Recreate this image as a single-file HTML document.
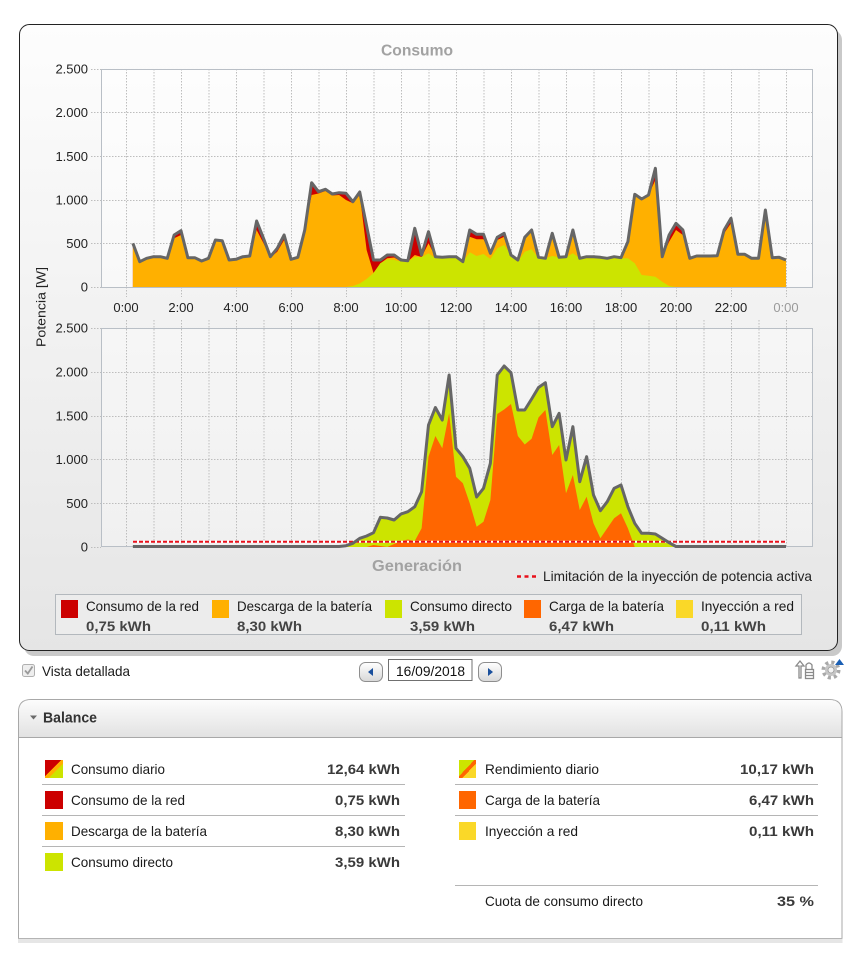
<!DOCTYPE html>
<html><head><meta charset="utf-8"><style>
html,body{margin:0;padding:0;background:#fff;}
body{width:862px;height:979px;overflow:hidden;position:relative;}
svg{position:absolute;left:0;top:0;}
text{font-family:"Liberation Sans",Arial,sans-serif;}
</style></head><body>
<svg width="862" height="979" viewBox="0 0 862 979" xmlns="http://www.w3.org/2000/svg">
<defs>
<linearGradient id="pg" x1="0" y1="0" x2="0" y2="1"><stop offset="0" stop-color="#fdfdfd"/><stop offset="1" stop-color="#e5e5e5"/></linearGradient>
<linearGradient id="hg" x1="0" y1="0" x2="0" y2="1"><stop offset="0" stop-color="#fcfcfc"/><stop offset="1" stop-color="#e2e2e2"/></linearGradient>
<linearGradient id="bg" x1="0" y1="0" x2="0" y2="1"><stop offset="0" stop-color="#ffffff"/><stop offset="1" stop-color="#d8d8d8"/></linearGradient>
<linearGradient id="ic1" x1="0" y1="0" x2="1" y2="1"><stop offset="0.45" stop-color="#cc0000"/><stop offset="0.45" stop-color="#ffb000"/><stop offset="0.6" stop-color="#ffb000"/><stop offset="0.6" stop-color="#cce400"/></linearGradient>
<linearGradient id="ic2" x1="0" y1="0" x2="1" y2="1"><stop offset="0.45" stop-color="#cce400"/><stop offset="0.45" stop-color="#ff6600"/><stop offset="0.6" stop-color="#ff6600"/><stop offset="0.6" stop-color="#fad828"/></linearGradient>
</defs>

<!-- chart panel -->
<rect x="24" y="30" width="818" height="626" rx="10" fill="#c9c9c9"/>
<rect x="19.5" y="24.5" width="818" height="626" rx="10" fill="url(#pg)" stroke="#222" stroke-width="1"/>

<text x="417" y="55.5" text-anchor="middle" font-size="16" font-weight="bold" fill="#a2a2a2" textLength="72" lengthAdjust="spacingAndGlyphs">Consumo</text>
<text x="417" y="571" text-anchor="middle" font-size="16" font-weight="bold" fill="#a2a2a2" textLength="90" lengthAdjust="spacingAndGlyphs">Generación</text>

<!-- plot backgrounds -->
<rect x="101.5" y="69.5" width="711" height="218" fill="#ffffff" fill-opacity="0.45"/>
<rect x="101.5" y="328.5" width="711" height="218" fill="#ffffff" fill-opacity="0.35"/>

<!-- grid -->
<g stroke="#bdbdbd" stroke-width="1" stroke-dasharray="1.5,1.5" fill="none">
<path d="M91 69.5H812 M91 112.5H812 M91 156.5H812 M91 200.5H812 M91 243.5H812 M91 287.5H101"/>
<path d="M91 328.5H812 M91 372.5H812 M91 416.5H812 M91 459.5H812 M91 503.5H812 M91 547.5H101"/>
<path d="M126.5 69V287 M154 69V287 M181.5 69V287 M209 69V287 M236.5 69V287 M264 69V287 M291.5 69V287 M319 69V287 M346.5 69V287 M374 69V287 M401.5 69V287 M429 69V287 M456.5 69V287 M484 69V287 M511.5 69V287 M539 69V287 M566.5 69V287 M594 69V287 M621.5 69V287 M649 69V287 M676.5 69V287 M704 69V287 M731.5 69V287 M759 69V287 M786.5 69V287"/>
<path d="M126.5 287V297 M181.5 287V297 M236.5 287V297 M291.5 287V297 M346.5 287V297 M401.5 287V297 M456.5 287V297 M511.5 287V297 M566.5 287V297 M621.5 287V297 M676.5 287V297 M731.5 287V297 M786.5 287V297"/>
<path d="M126.5 320V547 M154 320V547 M181.5 320V547 M209 320V547 M236.5 320V547 M264 320V547 M291.5 320V547 M319 320V547 M346.5 320V547 M374 320V547 M401.5 320V547 M429 320V547 M456.5 320V547 M484 320V547 M511.5 320V547 M539 320V547 M566.5 320V547 M594 320V547 M621.5 320V547 M649 320V547 M676.5 320V547 M704 320V547 M731.5 320V547 M759 320V547 M786.5 320V547"/>
</g>
<rect x="101.5" y="69.5" width="711" height="218" fill="none" stroke="#b9bfc6" stroke-width="1"/>
<rect x="101.5" y="328.5" width="711" height="218" fill="none" stroke="#b9bfc6" stroke-width="1"/>

<!-- top chart series -->
<g transform="translate(126,0) scale(6.875,1)">
<polygon fill="#cc0000" points="1,287 1,243.3 2,261.7 3,258.3 4,256.7 5,256.7 6,258.3 7,235 8,230.7 9,257.7 10,257.7 11,261 12,258.3 13,240 14,240.7 15,260 16,259.3 17,256.7 18,256 19,221 20,238.3 21,256.7 22,248.3 23,235 24,259.3 25,257.3 26,230 27,182.7 28,191.7 29,189.3 30,194 31,192.7 32,193.3 33,201.7 34,192 35,226 36,260 37,260 38,255 39,255 40,260 41,260.7 42,228.3 43,255 44,231.7 45,256.7 46,257.3 47,256.7 48,256.7 49,261.7 50,230 51,234.3 52,234.3 53,253.3 54,237.3 55,233.3 56,255 57,260 58,237.3 59,230 60,257.3 61,258.3 62,233.3 63,257.3 64,256.7 65,230 66,258.3 67,256.7 68,256.7 69,257.3 70,258.3 71,256.7 72,257.7 73,241.7 74,194.3 75,199 76,195 77,168.3 78,256.7 79,235 80,223.3 81,230 82,258.3 83,256 84,256 85,256 86,255.7 87,230 88,218.3 89,254.3 90,254.3 91,258.3 92,258.3 93,210 94,257.7 95,257.3 96,260 96,287"/>
<polygon fill="#ffb000" points="1,287 1,243.3 2,261.7 3,258.3 4,256.7 5,256.7 6,258.3 7,238.3 8,235 9,257.7 10,257.7 11,261 12,258.3 13,240 14,240.7 15,260 16,259.3 17,256.7 18,256 19,230 20,243.3 21,257.5 22,251.7 23,240 24,259.3 25,257.3 26,230 27,195 28,193.5 29,191 30,195.5 31,195 32,200 33,203.3 34,195 35,250 36,273 37,263.3 38,258.3 39,257.5 40,261.5 41,261.5 42,255 43,257 44,243.3 45,256.7 46,257.3 47,256.7 48,256.7 49,261.7 50,236.7 51,239.3 52,239.3 53,253.3 54,240 55,236.7 56,255 57,261.7 58,237.3 59,230 60,257.3 61,258.3 62,233.3 63,257.3 64,256.7 65,230 66,258.3 67,256.7 68,256.7 69,257.3 70,258.3 71,256.7 72,257.7 73,241.7 74,194.3 75,199 76,195 77,180 78,256.7 79,241.7 80,230 81,235 82,258.3 83,256 84,256 85,256 86,255.7 87,233.3 88,223.3 89,254.3 90,254.3 91,258.3 92,258.3 93,216.7 94,257.7 95,257.3 96,260 96,287"/>
<polygon fill="#cce400" points="31,287 32,287 33,286 34,283.5 35,279 36,273 37,263.3 38,259.3 39,260 40,261.5 41,261.5 42,257 43,257 44,253.3 45,258.3 46,258.3 47,258 48,258 49,261.7 50,252.3 51,256 52,254 53,259 54,248.3 55,245 56,255 57,261.7 58,251.7 59,249.3 60,258.3 61,258.3 62,256 63,257.3 64,257.3 65,253.3 66,258.3 67,258.3 68,258.3 69,258.3 70,259 71,258.3 72,258.3 73,258.3 74,263.3 75,275 76,275.7 77,276.7 78,281.7 79,286 80,287"/>
<polyline fill="none" stroke="#666" stroke-width="3" stroke-linejoin="round" vector-effect="non-scaling-stroke" points="1,243.3 2,261.7 3,258.3 4,256.7 5,256.7 6,258.3 7,235 8,230.7 9,257.7 10,257.7 11,261 12,258.3 13,240 14,240.7 15,260 16,259.3 17,256.7 18,256 19,221 20,238.3 21,256.7 22,248.3 23,235 24,259.3 25,257.3 26,230 27,182.7 28,191.7 29,189.3 30,194 31,192.7 32,193.3 33,201.7 34,192 35,226 36,260 37,260 38,255 39,255 40,260 41,260.7 42,228.3 43,255 44,231.7 45,256.7 46,257.3 47,256.7 48,256.7 49,261.7 50,230 51,234.3 52,234.3 53,253.3 54,237.3 55,233.3 56,255 57,260 58,237.3 59,230 60,257.3 61,258.3 62,233.3 63,257.3 64,256.7 65,230 66,258.3 67,256.7 68,256.7 69,257.3 70,258.3 71,256.7 72,257.7 73,241.7 74,194.3 75,199 76,195 77,168.3 78,256.7 79,235 80,223.3 81,230 82,258.3 83,256 84,256 85,256 86,255.7 87,230 88,218.3 89,254.3 90,254.3 91,258.3 92,258.3 93,210 94,257.7 95,257.3 96,260"/>
</g>

<!-- bottom chart series -->
<g transform="translate(126,0) scale(6.875,1)">
<polygon fill="#cce400" points="1,547 1,546.5 31,546.5 32,545.7 33,543.3 34,538.3 35,536 36,532.7 37,517.3 38,518 39,520 40,514 41,511.7 42,506.7 43,491.7 44,425 45,407.5 46,420 47,375 48,448.3 49,456.7 50,468.3 51,497 52,488.3 53,463.3 54,375 55,366 56,372.7 57,410 58,410 59,399 60,387.5 61,382.7 62,426.7 63,413.3 64,460 65,426.7 66,481.7 67,456.7 68,495 69,510.7 70,501.7 71,488.3 72,485 73,506.7 74,523.3 75,533.3 76,533.3 77,534 78,538.3 79,542.7 80,546.5 96,546.5 96,547"/>
<polygon fill="#ff6600" points="35,547 36,545 37,546 38,547 39,544 40,541 41,539.5 42,541 43,528.3 44,456.7 45,436 46,448.3 47,413.3 48,476.7 49,483.3 50,503.3 51,526.7 52,521.7 53,500 54,414 55,409.5 56,404 57,436 58,444.5 59,438.8 60,417.5 61,410 62,455 63,445 64,493.3 65,475 66,510 67,496.7 68,523.3 69,538.3 70,528.3 71,518.3 72,513.3 73,528.3 74,547"/>
</g>
<line x1="133" y1="541.7" x2="786" y2="541.7" stroke="#ffffff" stroke-width="2"/>
<line x1="133" y1="541.7" x2="786" y2="541.7" stroke="#e8101a" stroke-width="2" stroke-dasharray="4,2"/>
<g transform="translate(126,0) scale(6.875,1)">
<polyline fill="none" stroke="#666" stroke-width="3" stroke-linejoin="round" vector-effect="non-scaling-stroke" points="1,546.5 31,546.5 32,545.7 33,543.3 34,538.3 35,536 36,532.7 37,517.3 38,518 39,520 40,514 41,511.7 42,506.7 43,491.7 44,425 45,407.5 46,420 47,375 48,448.3 49,456.7 50,468.3 51,497 52,488.3 53,463.3 54,375 55,366 56,372.7 57,410 58,410 59,399 60,387.5 61,382.7 62,426.7 63,413.3 64,460 65,426.7 66,481.7 67,456.7 68,495 69,510.7 70,501.7 71,488.3 72,485 73,506.7 74,523.3 75,533.3 76,533.3 77,534 78,538.3 79,542.7 80,546.5 96,546.5"/>
</g>

<!-- axis labels -->
<g font-size="13" fill="#222" text-anchor="end">
<text x="88" y="73.5">2.500</text><text x="88" y="117">2.000</text><text x="88" y="161">1.500</text><text x="88" y="204.5">1.000</text><text x="88" y="248">500</text><text x="88" y="291.5">0</text>
<text x="88" y="332.5">2.500</text><text x="88" y="376.5">2.000</text><text x="88" y="420.5">1.500</text><text x="88" y="464">1.000</text><text x="88" y="508">500</text><text x="88" y="551.5">0</text>
</g>
<g font-size="13" fill="#222" text-anchor="middle">
<text x="126" y="312">0:00</text><text x="181" y="312">2:00</text><text x="236" y="312">4:00</text><text x="291" y="312">6:00</text><text x="346" y="312">8:00</text><text x="401" y="312">10:00</text><text x="456" y="312">12:00</text><text x="511" y="312">14:00</text><text x="566" y="312">16:00</text><text x="621" y="312">18:00</text><text x="676" y="312">20:00</text><text x="731" y="312">22:00</text><text x="786" y="312" fill="#9a9a9a">0:00</text>
</g>
<text transform="translate(45.5,307) rotate(-90)" text-anchor="middle" font-size="13" fill="#222" textLength="80" lengthAdjust="spacingAndGlyphs">Potencia [W]</text>

<!-- limitation legend -->
<path d="M517 576.5H537" stroke="#e8101a" stroke-width="2.5" stroke-dasharray="4,3.5"/>
<text x="543" y="581" font-size="14" fill="#222" textLength="269" lengthAdjust="spacingAndGlyphs">Limitación de la inyección de potencia activa</text>

<!-- legend box -->
<rect x="55.5" y="594.5" width="746" height="40" fill="#ececec" stroke="#b3b8bd"/>
<rect x="61" y="600" width="17" height="18" fill="#cc0000"/>
<rect x="212" y="600" width="17" height="18" fill="#ffb000"/>
<rect x="385" y="600" width="17" height="18" fill="#cce400"/>
<rect x="524" y="600" width="17" height="18" fill="#ff6600"/>
<rect x="676" y="600" width="17" height="18" fill="#fad828"/>
<g font-size="14" fill="#1a1a1a">
<text x="86" y="611" textLength="113" lengthAdjust="spacingAndGlyphs">Consumo de la red</text>
<text x="237" y="611" textLength="135" lengthAdjust="spacingAndGlyphs">Descarga de la batería</text>
<text x="410" y="611" textLength="102" lengthAdjust="spacingAndGlyphs">Consumo directo</text>
<text x="549" y="611" textLength="115" lengthAdjust="spacingAndGlyphs">Carga de la batería</text>
<text x="701" y="611" textLength="93" lengthAdjust="spacingAndGlyphs">Inyección a red</text>
</g>
<g font-size="14" font-weight="bold" fill="#444">
<text x="86" y="631" textLength="65" lengthAdjust="spacingAndGlyphs">0,75 kWh</text>
<text x="237" y="631" textLength="65" lengthAdjust="spacingAndGlyphs">8,30 kWh</text>
<text x="410" y="631" textLength="65" lengthAdjust="spacingAndGlyphs">3,59 kWh</text>
<text x="549" y="631" textLength="65" lengthAdjust="spacingAndGlyphs">6,47 kWh</text>
<text x="701" y="631" textLength="65" lengthAdjust="spacingAndGlyphs">0,11 kWh</text>
</g>

<!-- controls row -->
<rect x="22.5" y="664.5" width="12" height="12" rx="2" fill="#eeeeee" stroke="#b0b0b0"/>
<path d="M25 670.5 L27.8 673.5 L32.5 666.5" fill="none" stroke="#9a9a9a" stroke-width="1.8"/>
<text x="42" y="676" font-size="14" fill="#1a1a1a" textLength="88" lengthAdjust="spacingAndGlyphs">Vista detallada</text>

<rect x="359.5" y="662.5" width="23" height="19" rx="6" fill="url(#bg)" stroke="#8e8e8e"/>
<path d="M368 672 L373 668 L373 676 Z" fill="#1a4f9c"/>
<rect x="388.5" y="659.5" width="83.5" height="21" fill="#fff" stroke="#707070"/>
<text x="430.5" y="676" font-size="14" fill="#111" text-anchor="middle" textLength="69" lengthAdjust="spacingAndGlyphs">16/09/2018</text>
<rect x="478.5" y="662.5" width="23" height="19" rx="6" fill="url(#bg)" stroke="#8e8e8e"/>
<path d="M493 672 L488 668 L488 676 Z" fill="#1a4f9c"/>

<!-- right icons -->
<g fill="none" stroke="#8a8a8a" stroke-width="1.3">
<path d="M799 678 V666 H796 L800 661 L804 666 H801 V678 Z"/>
<path d="M806 669 V665 Q809 661 812 665 V669"/>
<rect x="805.5" y="669.5" width="8" height="9"/>
<path d="M806 672.5 H813 M806 675.5 H813"/>
</g>
<circle cx="831" cy="670" r="7.5" fill="none" stroke="#a9a9a9" stroke-width="4" stroke-dasharray="3,2.9"/>
<circle cx="831" cy="670" r="6" fill="#c6c6c6"/>
<circle cx="831" cy="670" r="3" fill="#f4f4f4" stroke="#999" stroke-width="0.8"/>
<path d="M835 665 L839.5 659 L844 665 Z" fill="#1a5fb4"/>

<!-- balance panel -->
<path d="M18.5 938.5 V712 Q18.5 699.5 31 699.5 H829.5 Q842 699.5 842 712 V938.5 Z" fill="#fff" stroke="#a8a8a8"/>
<path d="M19 737 V712 Q19 700 31 700 H829.5 Q841.5 700 841.5 712 V737 Z" fill="url(#hg)"/>
<line x1="18.5" y1="737.5" x2="842" y2="737.5" stroke="#a8a8a8"/>
<rect x="18" y="938" width="824.5" height="5" fill="#e6e6e6"/>
<line x1="18" y1="938.5" x2="842.5" y2="938.5" stroke="#b4b4b4"/>
<path d="M30 715.5 L37 715.5 L33.5 719.5 Z" fill="#6a6a6a"/>
<text x="43" y="722.5" font-size="15" font-weight="bold" fill="#333" textLength="54" lengthAdjust="spacingAndGlyphs">Balance</text>

<!-- left column -->
<rect x="45" y="760" width="18" height="18" fill="url(#ic1)"/>
<rect x="45" y="791" width="18" height="18" fill="#cc0000"/>
<rect x="45" y="822" width="18" height="18" fill="#ffb000"/>
<rect x="45" y="853" width="18" height="18" fill="#cce400"/>
<g stroke="#b5b5b5" stroke-width="1">
<line x1="42" y1="784.5" x2="405" y2="784.5"/><line x1="42" y1="815.5" x2="405" y2="815.5"/><line x1="42" y1="846.5" x2="405" y2="846.5"/>
<line x1="455" y1="784.5" x2="818" y2="784.5"/><line x1="455" y1="815.5" x2="818" y2="815.5"/><line x1="455" y1="885.5" x2="818" y2="885.5"/>
</g>
<g font-size="14" fill="#1a1a1a">
<text x="71" y="774" textLength="94" lengthAdjust="spacingAndGlyphs">Consumo diario</text>
<text x="71" y="805" textLength="114" lengthAdjust="spacingAndGlyphs">Consumo de la red</text>
<text x="71" y="836" textLength="136" lengthAdjust="spacingAndGlyphs">Descarga de la batería</text>
<text x="71" y="867" textLength="102" lengthAdjust="spacingAndGlyphs">Consumo directo</text>
<text x="485" y="774" textLength="114" lengthAdjust="spacingAndGlyphs">Rendimiento diario</text>
<text x="485" y="805" textLength="115" lengthAdjust="spacingAndGlyphs">Carga de la batería</text>
<text x="485" y="836" textLength="93" lengthAdjust="spacingAndGlyphs">Inyección a red</text>
<text x="485" y="906" textLength="158" lengthAdjust="spacingAndGlyphs">Cuota de consumo directo</text>
</g>
<g font-size="14" font-weight="bold" fill="#3a3a3a" text-anchor="end">
<text x="400" y="774" textLength="73" lengthAdjust="spacingAndGlyphs">12,64 kWh</text>
<text x="400" y="805" textLength="65" lengthAdjust="spacingAndGlyphs">0,75 kWh</text>
<text x="400" y="836" textLength="65" lengthAdjust="spacingAndGlyphs">8,30 kWh</text>
<text x="400" y="867" textLength="65" lengthAdjust="spacingAndGlyphs">3,59 kWh</text>
<text x="814" y="774" textLength="74" lengthAdjust="spacingAndGlyphs">10,17 kWh</text>
<text x="814" y="805" textLength="65" lengthAdjust="spacingAndGlyphs">6,47 kWh</text>
<text x="814" y="836" textLength="65" lengthAdjust="spacingAndGlyphs">0,11 kWh</text>
<text x="814" y="906" textLength="37" lengthAdjust="spacingAndGlyphs">35 %</text>
</g>
<rect x="459" y="760" width="17" height="18" fill="url(#ic2)"/>
<rect x="459" y="791" width="17" height="18" fill="#ff6600"/>
<rect x="459" y="822" width="17" height="18" fill="#fad828"/>
</svg>
</body></html>
